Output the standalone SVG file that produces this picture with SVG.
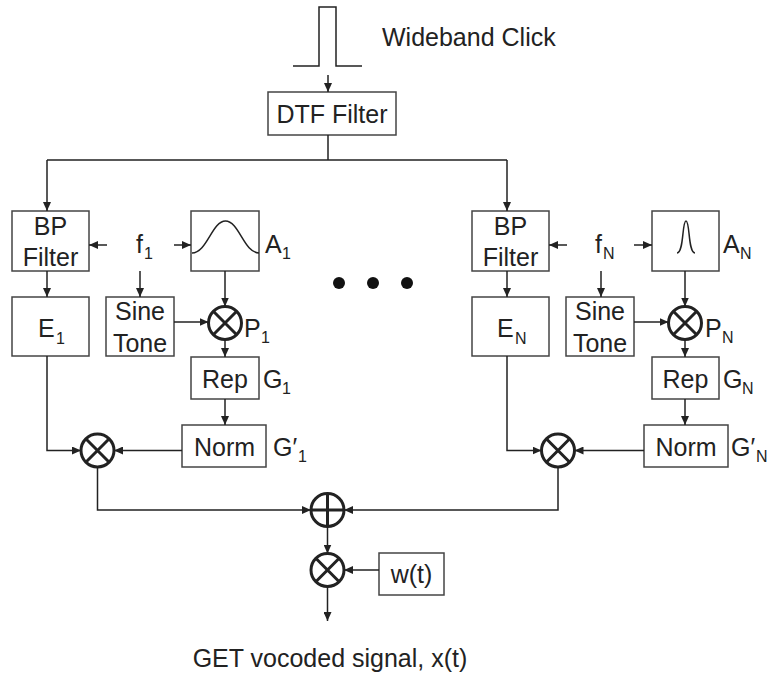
<svg xmlns="http://www.w3.org/2000/svg" width="768" height="679" viewBox="0 0 768 679">
<defs>
<marker id="ah" markerWidth="9" markerHeight="8" refX="9" refY="4" orient="auto" markerUnits="userSpaceOnUse">
<path d="M0,0 L9,4 L0,8 Z" fill="#222"/>
</marker>
</defs>
<style>
.box{fill:#fff;stroke:#444;stroke-width:1.5}
.ln{fill:none;stroke:#222;stroke-width:1.5}
.ar{fill:none;stroke:#222;stroke-width:1.5;marker-end:url(#ah)}
.op{fill:#fff;stroke:#222;stroke-width:3}
.opx{fill:none;stroke:#222;stroke-width:3}
.t{font-family:"Liberation Sans",Arial,sans-serif;font-size:25px;fill:#222}
.c{text-anchor:middle}
.s{font-family:"Liberation Sans",Arial,sans-serif;font-size:16px;fill:#222}
.cv{fill:none;stroke:#222;stroke-width:1.5}
</style>
<rect width="768" height="679" fill="#fff"/>

<g id="click">
<path class="ln" d="M293,66 H319 V7 H336 V66 H362"/>
<text class="t" x="382" y="46">Wideband Click</text>
</g>

<g id="dtf">
<rect class="box" x="268" y="92" width="128" height="43"/>
<text class="t c" x="332" y="123">DTF Filter</text>
</g>

<g id="bp1">
<rect class="box" x="12" y="211" width="77" height="60"/>
<text class="t c" x="50.5" y="235">BP</text>
<text class="t c" x="50.5" y="266">Filter</text>
</g>
<g id="f1">
<text class="t" x="136" y="253">f</text><text class="s" x="144" y="259">1</text>
</g>
<g id="a1">
<rect class="box" x="191" y="211" width="68" height="60"/>
<path class="cv" d="M192,253 C207,253 212,221 225.5,221 C239,221 244,253 259,253"/>
<text class="t" x="265" y="253">A</text><text class="s" x="282" y="259">1</text>
</g>
<g id="e1">
<rect class="box" x="12" y="297" width="77" height="59"/>
<text class="t" x="38" y="337">E</text><text class="s" x="56" y="344">1</text>
</g>
<g id="sine1">
<rect class="box" x="106" y="297" width="68" height="59"/>
<text class="t c" x="140" y="320">Sine</text>
<text class="t c" x="140" y="352">Tone</text>
</g>
<g id="p1">
<circle class="op" cx="225" cy="323" r="16.5"/>
<path class="opx" d="M213.3,311.3 L236.7,334.7 M236.7,311.3 L213.3,334.7"/>
<text class="t" x="244" y="337">P</text><text class="s" x="261" y="343">1</text>
</g>
<g id="rep1">
<rect class="box" x="191" y="357" width="68" height="42"/>
<text class="t c" x="225" y="388">Rep</text>
<text class="t" x="263" y="388">G</text><text class="s" x="282" y="394">1</text>
</g>
<g id="norm1">
<rect class="box" x="182" y="425" width="84" height="42"/>
<text class="t c" x="224.5" y="456">Norm</text>
<text class="t" x="273" y="456">G′</text><text class="s" x="298" y="462">1</text>
</g>
<g id="m1">
<circle class="op" cx="97.5" cy="450.5" r="16.5"/>
<path class="opx" d="M85.8,438.8 L109.2,462.2 M109.2,438.8 L85.8,462.2"/>
</g>

<g id="dots">
<circle cx="339" cy="283" r="6" fill="#111"/>
<circle cx="373" cy="283" r="6" fill="#111"/>
<circle cx="407" cy="283" r="6" fill="#111"/>
</g>

<g id="bpN">
<rect class="box" x="472" y="211" width="77" height="60"/>
<text class="t c" x="510.5" y="235">BP</text>
<text class="t c" x="510.5" y="266">Filter</text>
</g>
<g id="fN">
<text class="t" x="595" y="253">f</text><text class="s" x="603" y="259">N</text>
</g>
<g id="aN">
<rect class="box" x="652" y="211" width="67" height="60"/>
<path class="cv" d="M677,253 C684,253 682,221 686,221 C690,221 688,253 695,253"/>
<text class="t" x="723" y="253">A</text><text class="s" x="740" y="259">N</text>
</g>
<g id="eN">
<rect class="box" x="472" y="297" width="77" height="59"/>
<text class="t" x="497" y="337">E</text><text class="s" x="515" y="344">N</text>
</g>
<g id="sineN">
<rect class="box" x="566" y="297" width="68" height="59"/>
<text class="t c" x="600" y="320">Sine</text>
<text class="t c" x="600" y="352">Tone</text>
</g>
<g id="pN">
<circle class="op" cx="685" cy="323" r="16.5"/>
<path class="opx" d="M673.3,311.3 L696.7,334.7 M696.7,311.3 L673.3,334.7"/>
<text class="t" x="705" y="337">P</text><text class="s" x="722" y="343">N</text>
</g>
<g id="repN">
<rect class="box" x="652" y="357" width="67" height="42"/>
<text class="t c" x="685.5" y="388">Rep</text>
<text class="t" x="723" y="388">G</text><text class="s" x="742" y="394">N</text>
</g>
<g id="normN">
<rect class="box" x="644" y="425" width="84" height="42"/>
<text class="t c" x="686" y="456">Norm</text>
<text class="t" x="731" y="456">G′</text><text class="s" x="756" y="462">N</text>
</g>
<g id="mN">
<circle class="op" cx="558" cy="450.5" r="16.5"/>
<path class="opx" d="M546.3,438.8 L569.7,462.2 M569.7,438.8 L546.3,462.2"/>
</g>

<g id="sum">
<circle class="op" cx="327.5" cy="510" r="16.5"/>
<path class="opx" d="M311,510 H344 M327.5,493.5 V526.5"/>
</g>
<g id="mw">
<circle class="op" cx="327.5" cy="570" r="16.5"/>
<path class="opx" d="M315.8,558.3 L339.2,581.7 M339.2,558.3 L315.8,581.7"/>
</g>
<g id="wt">
<rect class="box" x="379" y="553" width="65" height="42"/>
<text class="t c" x="411.5" y="583">w(t)</text>
</g>
<g id="out">
<text class="t c" x="330" y="667">GET vocoded signal, x(t)</text>
</g>

<g id="connectors">
<path class="ar" d="M328,75 V92"/>
<path class="ln" d="M328,135 V160 M47,160 H507"/>
<path class="ar" d="M47,160 V211"/>
<path class="ar" d="M507,160 V211"/>
<path class="ar" d="M107,245 H89"/>
<path class="ar" d="M174,245 H191"/>
<path class="ar" d="M140,271 V297"/>
<path class="ar" d="M47,271 V297"/>
<path class="ar" d="M225,271 V306.5"/>
<path class="ar" d="M174,322 H208.5"/>
<path class="ar" d="M225,339.5 V357"/>
<path class="ar" d="M225,399 V425"/>
<path class="ar" d="M47,356 V450.5 H81"/>
<path class="ar" d="M182,450.5 H114"/>
<path class="ar" d="M97.5,467 V510 H311"/>
<path class="ar" d="M567,245 H549"/>
<path class="ar" d="M634,245 H652"/>
<path class="ar" d="M601,271 V297"/>
<path class="ar" d="M507,271 V297"/>
<path class="ar" d="M685,271 V306.5"/>
<path class="ar" d="M634,322 H668.5"/>
<path class="ar" d="M685,339.5 V357"/>
<path class="ar" d="M685,399 V425"/>
<path class="ar" d="M507,356 V450.5 H541.5"/>
<path class="ar" d="M644,450.5 H574.5"/>
<path class="ar" d="M558,467 V510 H344"/>
<path class="ar" d="M327.5,526.5 V553.5"/>
<path class="ar" d="M379,570 H344"/>
<path class="ar" d="M327.5,586.5 V621"/>
</g>
</svg>
